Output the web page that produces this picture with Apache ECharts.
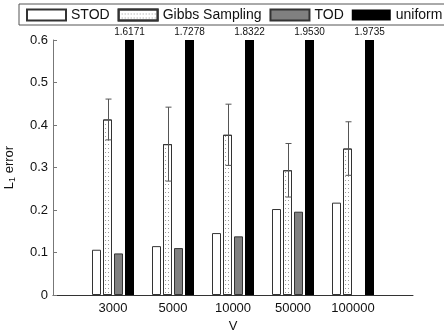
<!DOCTYPE html>
<html>
<head>
<meta charset="utf-8">
<script src="https://cdn.jsdelivr.net/npm/echarts@6/dist/echarts.min.js"></script>
<style>
  html, body { margin: 0; padding: 0; background: #fff; }
  #chart { width: 444px; height: 334px; }
</style>
</head>
<body>
<div id="chart"></div>
<script>
// values
const categories = ["3000", "5000", "10000", "50000", "100000"];
const stod = [0.1065, 0.115, 0.1457, 0.2023, 0.2173];
const gibbs = [0.413, 0.355, 0.377, 0.2935, 0.3446];
const gibbsErr = [0.048, 0.087, 0.072, 0.063, 0.063];
const tod = [0.0978, 0.1104, 0.138, 0.196, null];
const uniform = [1.6171, 1.7278, 1.8322, 1.953, 1.9735];
const yTicks = [0, 0.1, 0.2, 0.3, 0.4, 0.5, 0.6];

const FONT = "Liberation Sans, Arial, sans-serif";
const BAR_W = 9;
const BAR_GAP = 2;

// bar groups sit at 1..5 on a 0..6 axis, like the original plot
const toPairs = (arr) => arr.map((v, i) => [i + 1, v]);

// horizontal offset of the Gibbs bar (2nd of 4) from the group centre
const groupW = 4 * BAR_W + 3 * BAR_GAP;
const gibbsOffset = -groupW / 2 + BAR_W + BAR_GAP + BAR_W / 2;

const chart = echarts.init(document.getElementById("chart"), null, { renderer: "canvas" });

const barBorder = { borderColor: "#333", borderWidth: 1 };
const barGapPct = (BAR_GAP / BAR_W) * 100 + "%";

const option = {
  animation: false,
  textStyle: { fontFamily: FONT },
  legend: {
    left: 19,
    top: 4,
    width: 460,
    padding: [4, 12, 3, 7],
    icon: "rect",
    itemWidth: 39,
    itemHeight: 11,
    itemGap: 8,
    borderColor: "#555",
    borderWidth: 1,
    textStyle: { fontSize: 14, color: "#111", fontFamily: FONT },
    data: ["STOD", "Gibbs Sampling", "TOD", "uniform"],
  },
  grid: {
    left: 53,
    right: 31,
    top: 40,
    bottom: 39,
    containLabel: false,
    outerBoundsMode: "none",
  },
  xAxis: {
    type: "value",
    min: 0,
    max: 6,
    interval: 1,
    name: "V",
    nameLocation: "middle",
    nameGap: 24,
    nameTextStyle: { fontSize: 13, color: "#111" },
    axisLine: { show: true, lineStyle: { color: "#333" } },
    axisTick: { show: false },
    splitLine: { show: false },
    axisLabel: {
      fontSize: 13,
      color: "#111",
      margin: 7,
      formatter: (v) => categories[v - 1] || "",
    },
  },
  yAxis: {
    type: "value",
    min: yTicks[0],
    max: yTicks[yTicks.length - 1],
    interval: 0.1,
    name: "L{sub|1} error",
    nameLocation: "middle",
    nameGap: 36,
    nameTextStyle: {
      fontSize: 13,
      color: "#111",
      rich: { sub: { fontSize: 9, verticalAlign: "bottom", padding: [6, 0, 0, 0] } },
    },
    axisLine: { show: true, lineStyle: { color: "#777" } },
    axisTick: { show: true, inside: true, length: 4, lineStyle: { color: "#777" } },
    splitLine: { show: false },
    axisLabel: { fontSize: 13, color: "#111", margin: 5 },
  },
  series: [
    {
      name: "STOD",
      type: "bar",
      barWidth: BAR_W,
      barGap: barGapPct,
      itemStyle: Object.assign({ color: "#fff" }, barBorder),
      data: toPairs(stod),
    },
    {
      name: "Gibbs Sampling",
      type: "bar",
      barWidth: BAR_W,
      barGap: barGapPct,
      itemStyle: Object.assign(
        {
          color: "#fff",
          decal: {
            symbol: "rect",
            symbolSize: 1,
            dashArrayX: [1, 2],
            dashArrayY: [1, 3],
            color: "#999",
          },
        },
        barBorder
      ),
      data: toPairs(gibbs),
    },
    {
      name: "TOD",
      type: "bar",
      barWidth: BAR_W,
      barGap: barGapPct,
      itemStyle: Object.assign({ color: "#808080" }, barBorder),
      data: toPairs(tod),
    },
    {
      name: "uniform",
      type: "bar",
      barWidth: BAR_W,
      barGap: barGapPct,
      clip: true,
      itemStyle: { color: "#000" },
      label: {
        show: true,
        position: "top",
        distance: 3,
        fontSize: 10,
        color: "#111",
        formatter: (p) => uniform[p.dataIndex].toFixed(4),
      },
      data: toPairs(uniform),
    },
    {
      // error bars on the Gibbs bars
      name: "gibbsErr",
      type: "custom",
      z: 5,
      data: gibbs.map((m, i) => [i + 1, m - gibbsErr[i], m + gibbsErr[i]]),
      renderItem: (params, api) => {
        const lo = api.coord([api.value(0), api.value(1)]);
        const hi = api.coord([api.value(0), api.value(2)]);
        const x = Math.round(lo[0] + gibbsOffset) + 0.5;
        const cap = 3;
        const style = { stroke: "#555", lineWidth: 1 };
        return {
          type: "group",
          children: [
            { type: "line", shape: { x1: x, y1: lo[1], x2: x, y2: hi[1] }, style },
            { type: "line", shape: { x1: x - cap, y1: hi[1], x2: x + cap, y2: hi[1] }, style },
            { type: "line", shape: { x1: x - cap, y1: lo[1], x2: x + cap, y2: lo[1] }, style },
          ],
        };
      },
    },
  ],
};

chart.setOption(option);
window.addEventListener("resize", () => chart.resize());
</script>
</body>
</html>
